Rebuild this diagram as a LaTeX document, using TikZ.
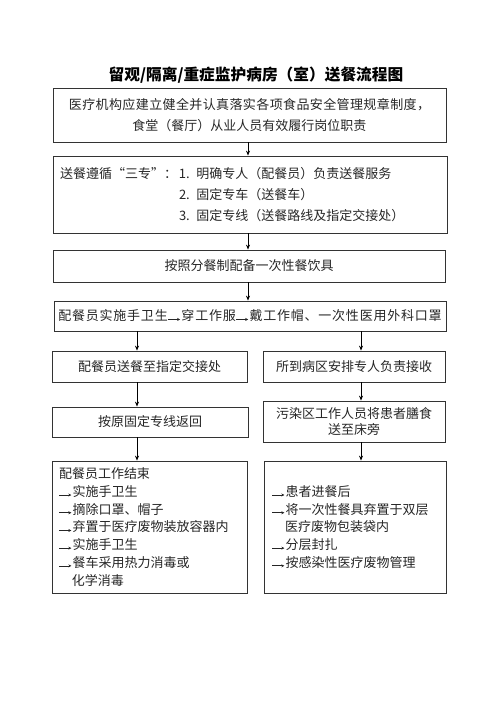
\documentclass[tikz,border=0pt]{standalone}
\usepackage{fontspec}
\setmainfont{Noto Sans CJK SC}
\newfontfamily\cjkwide[LetterSpace=6]{Noto Sans CJK SC}
\newfontfamily\cjkmid[LetterSpace=3]{Noto Sans CJK SC}
\usepackage{tikz}
\usepackage{xcolor}
\usetikzlibrary{positioning, arrows.meta}

\tikzset{
  box/.style={draw=black!80, line width=0.8pt, inner sep=0pt, font=\fontsize{13}{21}\selectfont, text=black!85},
  arr/.style={-{Stealth[length=5pt,width=4pt]}, line width=0.8pt},
}
\newcommand{\jt}{\tikz[x=1pt,y=1pt,baseline=0pt]\draw[line width=0.7pt,-{Stealth[length=3pt,width=3pt]}] (0,1.5) -- (12,1.5);\hspace{1pt}}

\begin{document}
\begin{tikzpicture}[x=1pt,y=-1pt]
    \useasboundingbox (0,0) rectangle (500,707);
    \node[font=\fontsize{15.7}{18}\selectfont\bfseries] (title) at (256,75) {留观/隔离/重症监护病房（室）送餐流程图};
    %
    \node[box, minimum width=393, minimum height=54, align=center] (b1) at (249.5,115)
    {\cjkmid 医疗机构应建立健全并认真落实各项食品安全管理规章制度，\\食堂（餐厅）从业人员有效履行岗位职责};
    \node[box, minimum width=394, minimum height=77, text width=380, align=left] (b2) at (250,194.5)
    {\makebox[119pt][l]{送餐遵循“三专”：}1. 明确专人（配餐员）负责送餐服务\\
     \hspace*{119pt}2. 固定专车（送餐车）\\
     \hspace*{119pt}3. 固定专线（送餐路线及指定交接处）};
    \node[box, minimum width=392, minimum height=32] (b3) at (249,266) {按照分餐制配备一次性餐饮具};
    \node[box, minimum width=392, minimum height=30] (b4) at (250,316)
    {\cjkwide 配餐员实施手卫生\jt 穿工作服\jt 戴工作帽、一次性医用外科口罩};
    %
    \node[box, minimum width=195, minimum height=31] (l1) at (149.5,366.5) {配餐员送餐至指定交接处};
    \node[box, minimum width=182, minimum height=31] (r1) at (354,366.5) {所到病区安排专人负责接收};
    \node[box, minimum width=196, minimum height=30] (l2) at (150,422) {按原固定专线返回};
    \node[box, minimum width=182, minimum height=41, align=center, font=\fontsize{13}{16}\selectfont] (r2) at (354,421.5)
    {污染区工作人员将患者膳食\\送至床旁};
    %
    \node[box, minimum width=195, minimum height=132, text width=181, align=left, font=\fontsize{13}{17.7}\selectfont] (l3) at (149.5,527)
    {配餐员工作结束\\
     \jt 实施手卫生\\
     \jt 摘除口罩、帽子\\
     \jt 弃置于医疗废物装放容器内\\
     \jt 实施手卫生\\
     \jt 餐车采用热力消毒或\\
     \hspace*{13pt}化学消毒};
    \node[box, minimum width=182, minimum height=132, text width=166, align=left, font=\fontsize{13}{17.7}\selectfont] (r3) at (355,527)
    {\jt 患者进餐后\\
     \jt 将一次性餐具弃置于双层\\
     \hspace*{13pt}医疗废物包装袋内\\
     \jt 分层封扎\\
     \jt 按感染性医疗废物管理};
    %
    \coordinate (lx) at (137,0);
    \coordinate (rx) at (361,0);
    \draw[arr] (b1.south -| 248,0) -- (b2.north -| 248,0);
    \draw[arr] (b2.south -| 248,0) -- (b3.north -| 248,0);
    \draw[arr] (b3.south -| 248,0) -- (b4.north -| 248,0);
    \draw[arr] (b4.south -| lx) -- (l1.north -| lx);
    \draw[arr] (b4.south -| rx) -- (r1.north -| rx);
    \draw[arr] (l1.south -| lx) -- (l2.north -| lx);
    \draw[arr] (r1.south -| rx) -- (r2.north -| rx);
    \draw[arr] (l2.south -| lx) -- (l3.north -| lx);
    \draw[arr] (r2.south -| rx) -- (r3.north -| rx);
\end{tikzpicture}
\end{document}
